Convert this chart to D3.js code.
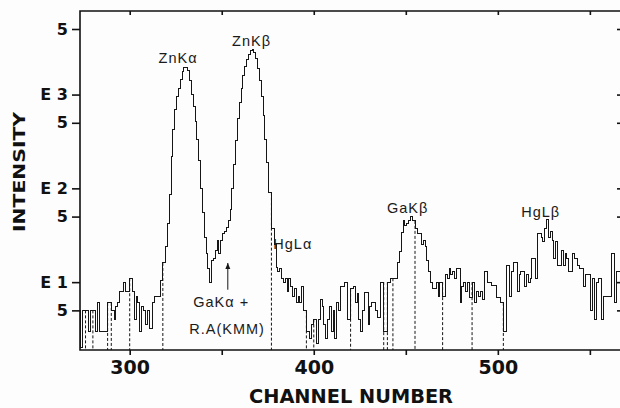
<!DOCTYPE html>
<html>
<head>
<meta charset="utf-8">
<script src="https://cdn.jsdelivr.net/npm/d3@7"></script>
<style>
  html, body { margin: 0; padding: 0; background: #fff; }
  svg { display: block; }
</style>
</head>
<body>
<svg id="chart" width="620" height="408"></svg>
<script>
// Counts per channel, starting at channel 273 (0 = empty channel)
const firstChannel = 273;
const counts = [
  5, 2, 5, 0, 5, 3, 5, 0, 5, 3,                 // 273-282
  6, 3, 3, 3, 3, 0, 6, 0, 5, 4,                 // 283-292
  5.5, 6, 8, 8, 10, 8, 8, 0, 11, 8,             // 293-302
  4, 7, 6, 3, 5.5, 5, 3.5, 5, 3.2, 3.2,         // 303-312
  6, 7, 7, 7, 10.5, 0, 16, 24, 42, 85,          // 313-322
  220, 420, 700, 950, 1150, 1450, 1750, 1950, 1950, 1800, // 323-332
  1400, 1000, 750, 520, 330, 200, 100, 55, 30, 20,        // 333-342
  14, 10, 17, 18, 22, 28, 20, 28, 33, 35,       // 343-352
  38, 45, 60, 100, 180, 320, 550, 820, 1150, 1600,        // 353-362
  2000, 2350, 2700, 2950, 3000, 2800, 2400, 1900, 1400, 950, // 363-372
  600, 330, 190, 90, 0, 37, 25, 14.5, 13, 14,   // 373-382
  11, 10, 11, 8, 11, 9, 7, 8.5, 6, 7,           // 383-392
  6, 9, 5, 0, 3, 2.5, 3.5, 0, 4, 2.2,           // 393-402
  4, 6.5, 5.5, 3.5, 2.5, 4, 5.5, 3, 5, 2.5,     // 403-412
  6, 5, 9, 9, 10, 10, 4, 0, 8.5, 9,             // 413-422
  6, 7.5, 4, 3, 5, 7.8, 7.8, 3.5, 5.5, 6,       // 423-432
  6, 5, 4.2, 4.2, 10, 0, 3, 0, 10, 11,          // 433-442
  0, 11, 11, 16, 21, 34, 45, 40, 42, 45,        // 443-452
  50, 45, 0, 37, 33, 33, 25, 28, 24, 17,        // 453-462
  13, 10, 8.6, 8.6, 10, 7, 10, 0, 7, 12,        // 463-472
  11, 14, 12, 13, 11, 14, 14, 6, 9, 10,         // 473-482
  8, 10, 6.8, 0, 10, 6, 8, 7, 8, 6.5,           // 483-492
  13, 13, 10, 10, 9.3, 9.3, 9.3, 6.8, 6.8, 6,   // 493-502
  0, 3, 15, 15, 7, 13, 16, 16, 8, 12,           // 503-512
  13, 13, 9, 12, 10, 11, 18, 18, 11, 33,        // 513-522
  33, 30, 27, 37, 47, 30, 35, 28, 18, 27,       // 523-532
  15, 15, 22, 15, 20, 18, 13, 13, 20, 18,       // 533-542
  18, 15, 14, 14, 9, 12, 12, 12, 5, 11,         // 543-552
  4, 10, 11, 11, 4, 7, 7, 7, 7, 20,             // 553-562
  20, 6, 13, 13, 10                             // 563-567
];

// Axis ticks
const yTickValues = [5, 10, 50, 100, 500, 1000, 5000];
const yTickLabels = ["5", "E 1", "5", "E 2", "5", "E 3", "5"];
const xTickValues = [300, 350, 400, 450, 500, 550];
const xLabelledTicks = [300, 400, 500];

// Line identifications (label centre channel, baseline intensity)
const peakLabels = [
  { text: "ZnKα", channel: 326.3, value: 2170 },
  { text: "ZnKβ", channel: 366.2, value: 3300 },
  { text: "HgLα", channel: 388.6, value: 22.6 },
  { text: "GaKβ", channel: 451.0, value: 54.7 },
  { text: "HgLβ", channel: 523.3, value: 49.5 },
  { text: "GaKα +", channel: 349.7, value: 5.44 },
  { text: "R.A(KMM)", channel: 352.9, value: 2.8 }
];
const arrowMark = { channel: 353.3, from: 8.3, to: 16 };

const svg = d3.select("#chart");
const W = 620, H = 408;
const plot = { left: 80, right: 623, top: 11, bottom: 350 };

svg.append("rect").attr("width", W).attr("height", H).attr("fill", "#fdfdfd");

const x = d3.scaleLinear().domain([273, 568]).range([plot.left, plot.right]);
const y = d3.scaleLog().domain([1.89, 7780]).range([plot.bottom, plot.top]);
const yMin = y.domain()[0];

svg.append("defs").append("clipPath").attr("id", "plotClip")
  .append("rect")
  .attr("x", plot.left).attr("y", plot.top)
  .attr("width", plot.right - plot.left).attr("height", plot.bottom - plot.top);

const ink = "#161616";

// Step trace: each channel spans its own bin; bins next to an empty
// channel extend to that channel's centre so the trace stays joined.
const pts = [];
counts.forEach((v, i) => {
  if (v <= 0) return;
  const c = firstChannel + i;
  const prevZero = i > 0 && counts[i - 1] <= 0;
  const nextZero = i < counts.length - 1 && counts[i + 1] <= 0;
  pts.push([prevZero ? c - 1 : c - 0.5, v], [nextZero ? c + 1 : c + 0.5, v]);
});

const stepLine = d3.line()
  .x(d => x(d[0]))
  .y(d => y(Math.max(d[1], yMin)));

const g = svg.append("g").attr("clip-path", "url(#plotClip)");

g.append("path")
  .datum(pts)
  .attr("d", stepLine)
  .attr("fill", "none")
  .attr("stroke", ink)
  .attr("stroke-width", 1)
  .attr("shape-rendering", "crispEdges");

// Empty channels drop to the baseline as dashed lines
const empties = [];
counts.forEach((v, i) => {
  if (v > 0) return;
  const prev = i > 0 ? counts[i - 1] : 0;
  const next = i < counts.length - 1 ? counts[i + 1] : 0;
  empties.push({ c: firstChannel + i, level: Math.max(prev, next, yMin) });
});

g.selectAll("line.empty")
  .data(empties)
  .join("line")
  .attr("class", "empty")
  .attr("x1", d => x(d.c)).attr("x2", d => x(d.c))
  .attr("y1", d => y(d.level)).attr("y2", plot.bottom)
  .attr("stroke", ink)
  .attr("stroke-width", 1)
  .attr("stroke-dasharray", "3,2");

// Frame
svg.append("path")
  .attr("d", `M${plot.right},${plot.top}H${plot.left}V${plot.bottom}H${plot.right}`)
  .attr("fill", "none")
  .attr("stroke", "#111")
  .attr("stroke-width", 1.6);

const boldFont = "'DejaVu Sans', sans-serif";

// Bottom axis
const xAxis = d3.axisBottom(x)
  .tickValues(xTickValues)
  .tickSize(5)
  .tickPadding(6)
  .tickFormat(d => xLabelledTicks.includes(d) ? String(d) : "");
const gx = svg.append("g").attr("transform", `translate(0,${plot.bottom})`).call(xAxis);
gx.select(".domain").remove();
gx.selectAll(".tick line").attr("stroke", "#111").attr("stroke-width", 1.6);
gx.selectAll(".tick text")
  .attr("fill", "#111")
  .style("font-family", boldFont)
  .style("font-weight", "bold")
  .style("font-size", "19px");

// Top axis: inward ticks, no labels
const xTop = d3.axisTop(x).tickValues(xTickValues).tickSize(-4).tickFormat("");
const gxt = svg.append("g").attr("transform", `translate(0,${plot.top})`).call(xTop);
gxt.select(".domain").remove();
gxt.selectAll(".tick line").attr("stroke", "#111").attr("stroke-width", 1.6);

// Left axis
const yAxis = d3.axisLeft(y)
  .tickValues(yTickValues)
  .tickSize(8)
  .tickPadding(4)
  .tickFormat((d, i) => yTickLabels[i]);
const gy = svg.append("g").attr("transform", `translate(${plot.left},0)`).call(yAxis);
gy.select(".domain").remove();
gy.selectAll(".tick line").attr("stroke", "#111").attr("stroke-width", 1.6);
gy.selectAll(".tick text")
  .attr("fill", "#111")
  .attr("xml:space", "preserve")
  .style("white-space", "pre")
  .style("font-family", boldFont)
  .style("font-weight", "bold")
  .style("font-size", "16px");

// Right axis: inward ticks, no labels
const yRight = d3.axisLeft(y).tickValues(yTickValues).tickSize(6).tickFormat("");
const gyr = svg.append("g").attr("transform", `translate(${plot.right},0)`).call(yRight);
gyr.select(".domain").remove();
gyr.selectAll(".tick line").attr("stroke", "#111").attr("stroke-width", 1.6);

// Axis titles
svg.append("text")
  .attr("x", 351).attr("y", 403)
  .attr("text-anchor", "middle")
  .attr("textLength", 204)
  .attr("lengthAdjust", "spacingAndGlyphs")
  .attr("fill", "#111")
  .style("font-family", boldFont)
  .style("font-weight", "bold")
  .style("font-size", "19px")
  .text("CHANNEL NUMBER");

svg.append("text")
  .attr("transform", "translate(25,172) rotate(-90)")
  .attr("text-anchor", "middle")
  .attr("textLength", 120)
  .attr("lengthAdjust", "spacingAndGlyphs")
  .attr("fill", "#111")
  .style("font-family", boldFont)
  .style("font-weight", "bold")
  .style("font-size", "16px")
  .text("INTENSITY");

// Peak identifications
svg.selectAll("text.peak")
  .data(peakLabels)
  .join("text")
  .attr("class", "peak")
  .attr("x", d => x(d.channel))
  .attr("y", d => y(d.value))
  .attr("text-anchor", "middle")
  .attr("fill", "#1a1a1a")
  .style("font-family", "'Liberation Sans', Arial, sans-serif")
  .style("font-size", "14.5px")
  .style("letter-spacing", "1px")
  .text(d => d.text);

// Arrow pointing at the Ga Kα / RAE shoulder
svg.append("defs").append("marker")
  .attr("id", "arrowHead")
  .attr("viewBox", "0 0 10 10")
  .attr("refX", 5).attr("refY", 2)
  .attr("markerWidth", 6).attr("markerHeight", 7)
  .attr("orient", "auto-start-reverse")
  .append("path")
  .attr("d", "M1,9 L5,0 L9,9 Z")
  .attr("fill", ink);

svg.append("line")
  .attr("x1", x(arrowMark.channel)).attr("x2", x(arrowMark.channel))
  .attr("y1", y(arrowMark.from)).attr("y2", y(arrowMark.to))
  .attr("stroke", ink)
  .attr("stroke-width", 1);
svg.append("path")
  .attr("d", `M${x(arrowMark.channel) - 2.5},${y(arrowMark.to) + 6}L${x(arrowMark.channel)},${y(arrowMark.to)}L${x(arrowMark.channel) + 2.5},${y(arrowMark.to) + 6}Z`)
  .attr("fill", ink);
</script>
</body>
</html>
